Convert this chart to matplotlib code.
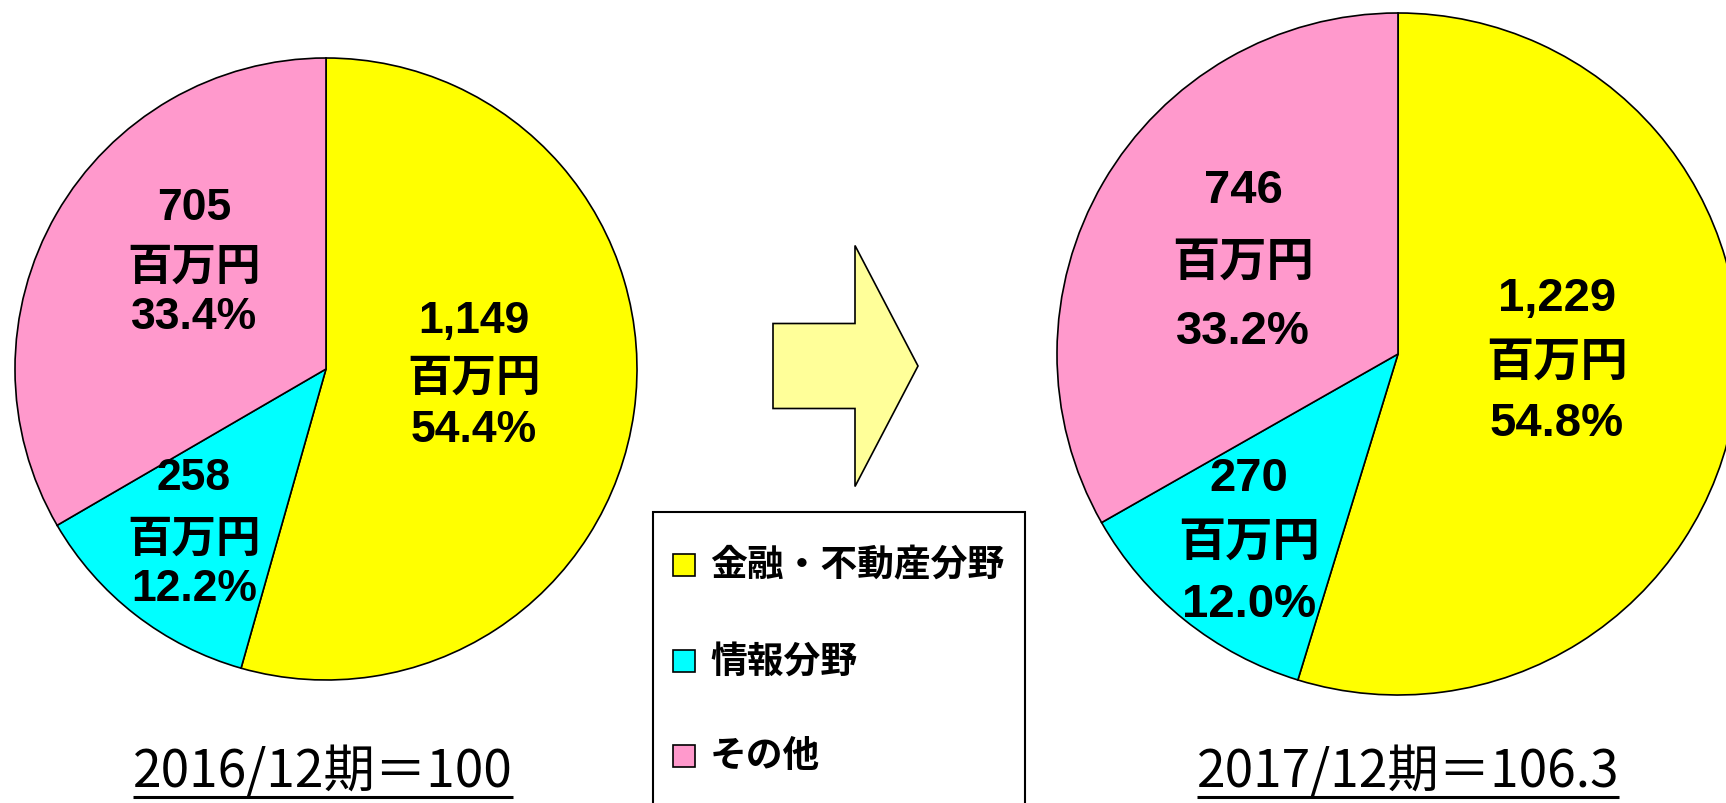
import matplotlib
matplotlib.use("Agg")
import matplotlib.pyplot as plt
from matplotlib.patches import FancyArrow, Rectangle

# data
categories = ["金融・不動産分野", "情報分野", "その他"]
sales_2016 = [1149, 258, 705]
sales_2017 = [1229, 270, 746]
share_2016 = [54.4, 12.2, 33.4]
share_2017 = [54.8, 12.0, 33.2]
period_titles = ["2016/12期＝100", "2017/12期＝106.3"]
colors = ["#FFFF00", "#00FFFF", "#FF99CC"]

NUM_FONT = ["Liberation Sans", "Noto Sans CJK JP"]
JP_FONT = ["Noto Sans CJK JP", "DejaVu Sans"]

W, H = 1726, 804
fig = plt.figure(figsize=(W / 100, H / 100), dpi=100)
ax = fig.add_axes([0, 0, 1, 1])


def draw_pie(vals, pcts, center, radius, label_pos, size):
    ax.pie(vals, colors=colors, startangle=90, counterclock=False,
           center=(center[0], H - center[1]), radius=radius,
           wedgeprops=dict(edgecolor="black", linewidth=1.2))
    for v, p, (x, ys) in zip(vals, pcts, label_pos):
        lines = ["{:,}".format(v), "百万円", "{:.1f}%".format(p)]
        for s, y in zip(lines, ys):
            ax.text(x, H - y, s, ha="center", va="center", fontsize=size,
                    fontweight="bold", family=NUM_FONT)


# label spots (x, [value, unit, percent] y) in pixels from top
pos_2016 = [(474, [322, 379, 431]), (194, [479, 540, 590]), (194, [208, 268, 318])]
pos_2017 = [(1557, [299, 364, 424]), (1249, [479, 544, 605]), (1243, [191, 264, 332])]

draw_pie(sales_2016, share_2016, (326, 370), 311, pos_2016, 32)
draw_pie(sales_2017, share_2017, (1398, 355), 341, pos_2017, 34)

# arrow between the pies
ax.add_patch(FancyArrow(773, H - 367, 145, 0, width=85, head_width=241,
                        head_length=63, length_includes_head=True,
                        fc="#FFFF99", ec="black", lw=1.2, zorder=3))

# legend box (runs off the bottom)
ax.add_patch(Rectangle((653, H - 840), 372, 840 - 513, fc="white",
                       ec="black", lw=1.5, zorder=3))
for lab, c, y in zip(categories, colors, [566, 662, 757]):
    ax.add_patch(Rectangle((673, H - y - 11), 22, 22, fc=c, ec="black",
                           lw=1.2, zorder=4))
    ax.text(710, H - y, lab, ha="left", va="center", fontsize=26.5,
            fontweight="bold", family=JP_FONT, zorder=5)

# period titles, underlined
title_objs = []
for t, cx in zip(period_titles, [323, 1408]):
    title_objs.append(ax.text(cx, H - 773, t, ha="center", va="center",
                              fontsize=37, family=JP_FONT))

ax.set_xlim(0, W)
ax.set_ylim(0, H)
ax.set_aspect("equal")
ax.axis("off")

fig.canvas.draw()
inv = ax.transData.inverted()
for t in title_objs:
    bb = t.get_window_extent()
    x0 = inv.transform((bb.x0, 0))[0]
    x1 = inv.transform((bb.x1, 0))[0]
    ax.plot([x0, x1], [H - 798, H - 798], color="black", lw=2.2,
            solid_capstyle="butt")

fig.savefig("out.png", dpi=100, facecolor="white")
